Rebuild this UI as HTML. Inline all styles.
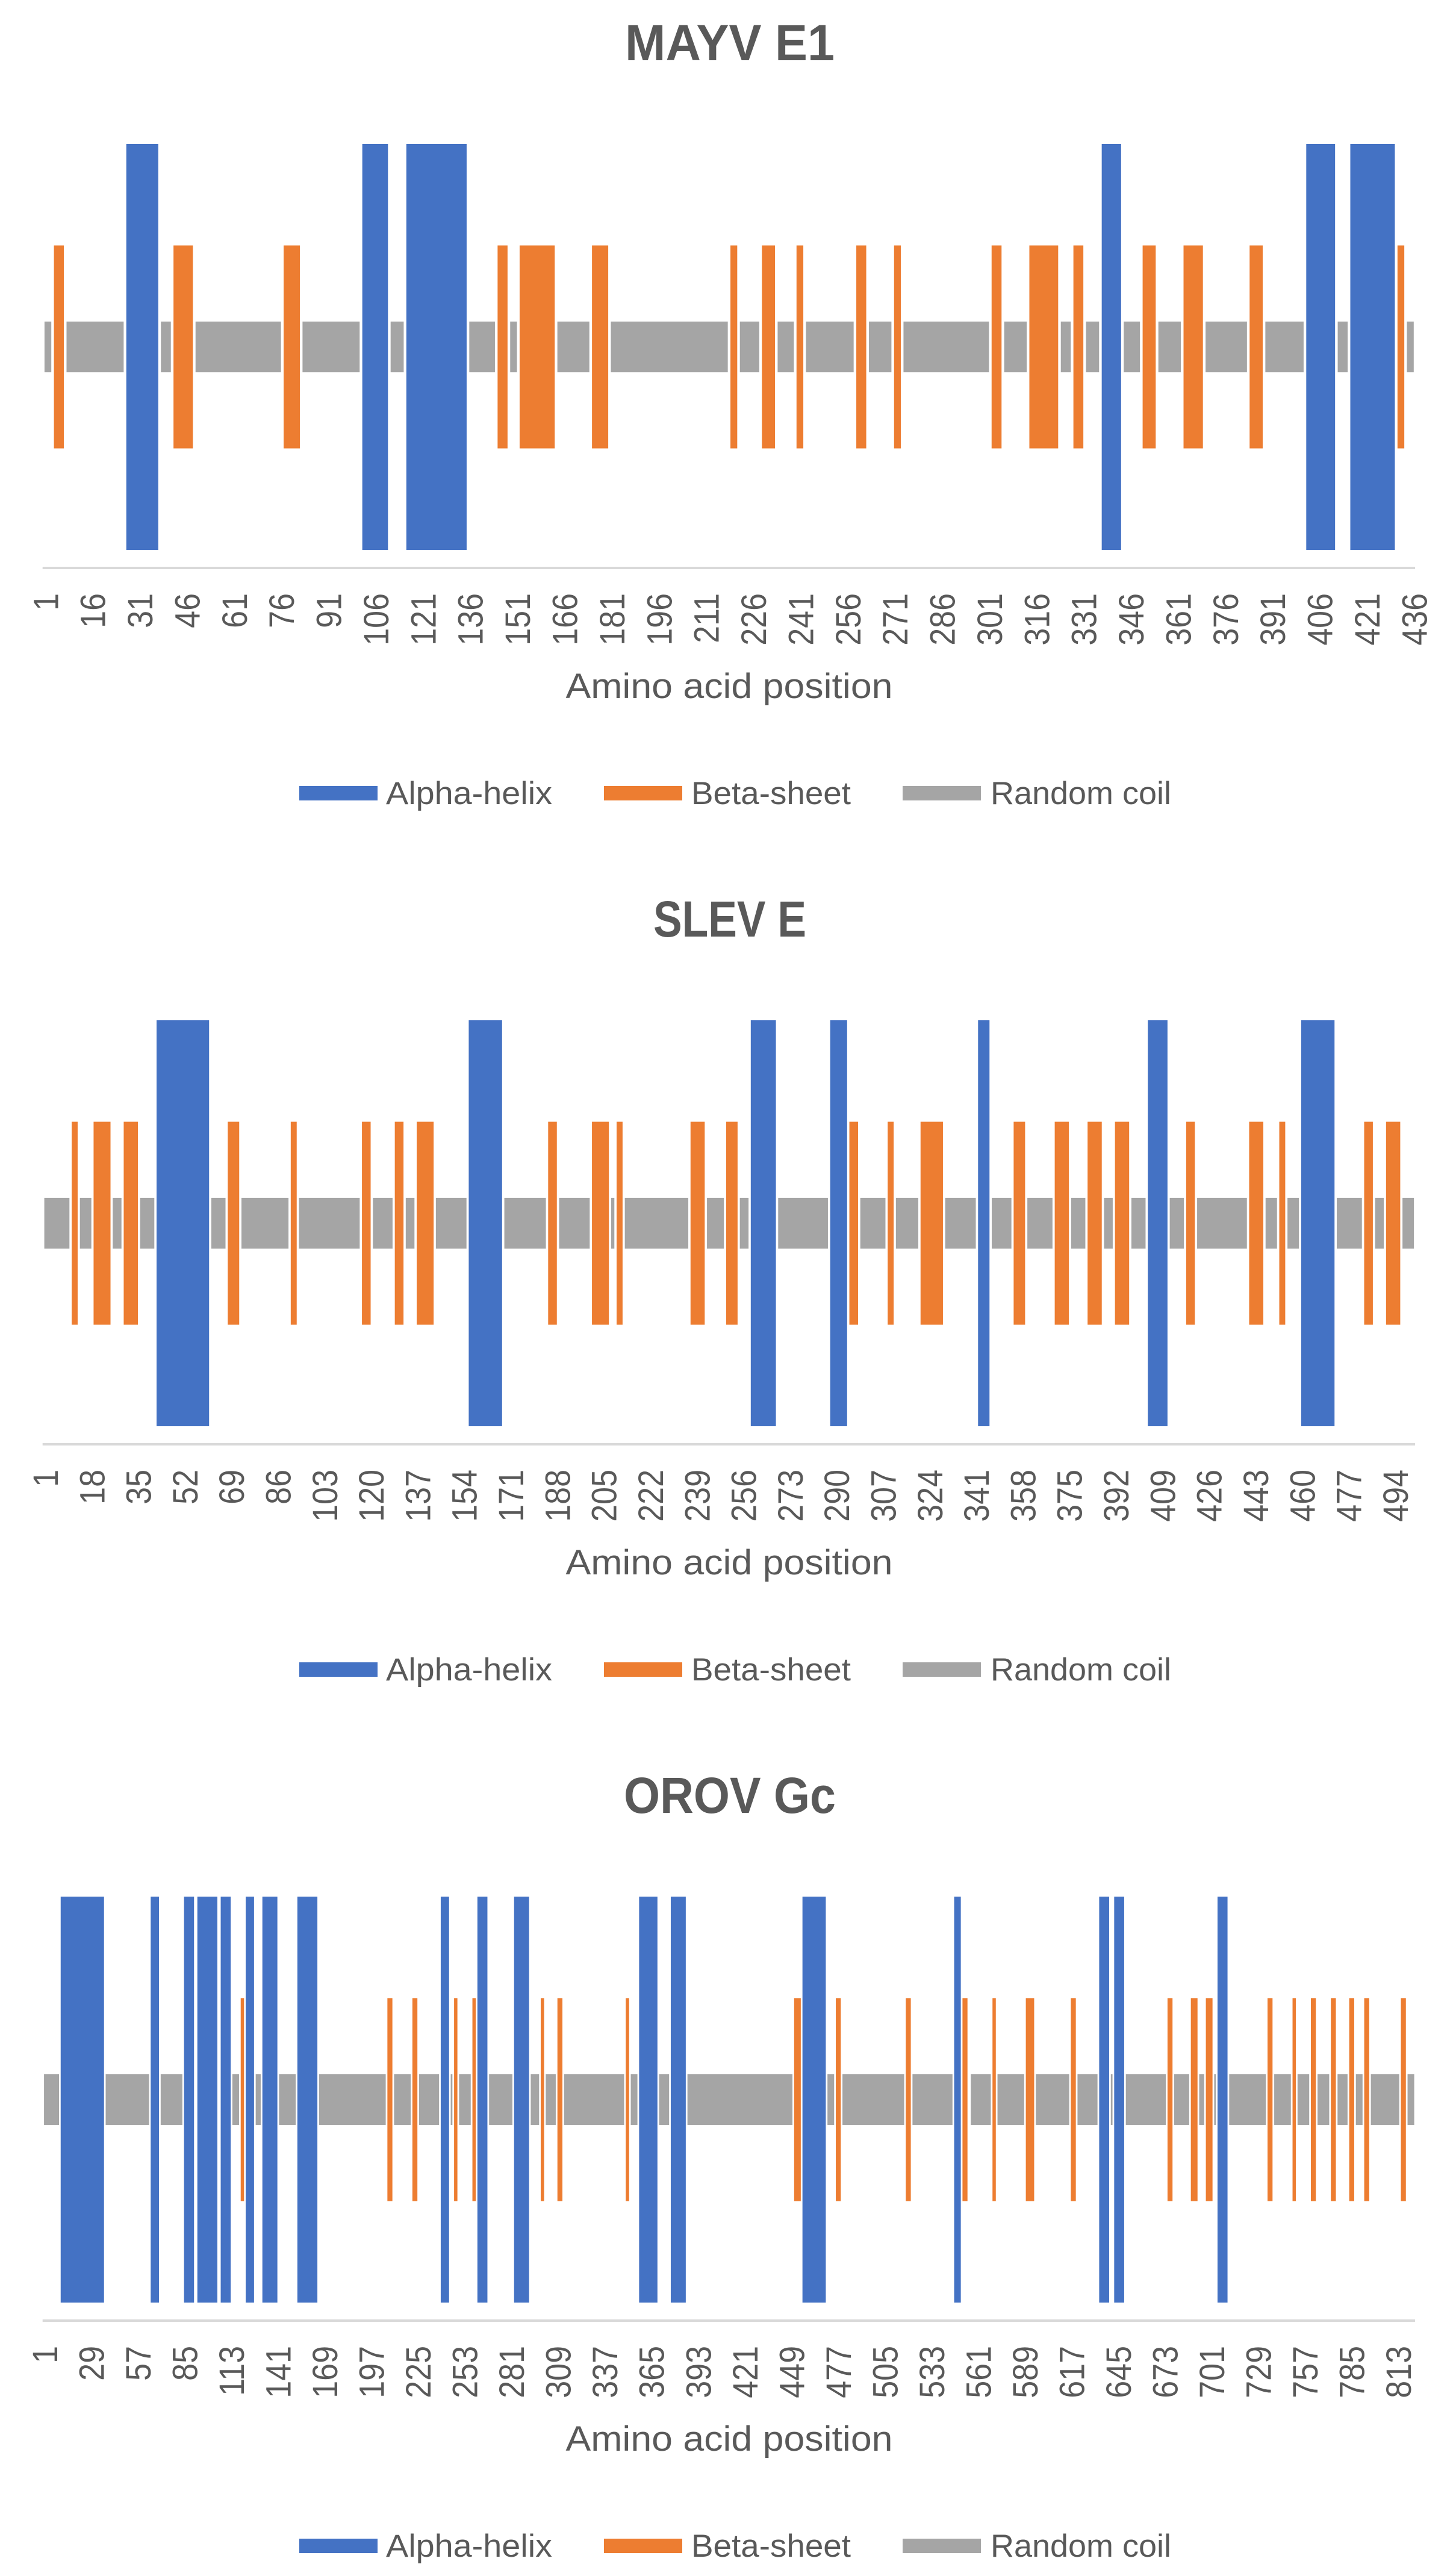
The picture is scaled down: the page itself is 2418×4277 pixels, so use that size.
<!DOCTYPE html>
<html lang="en">
<head>
<meta charset="utf-8">
<title>Secondary structure of MAYV E1, SLEV E and OROV Gc</title>
<style>
html,body{margin:0;padding:0;background:#fff}
svg{display:block}
text{font-family:"Liberation Sans",sans-serif;fill:#595959}
</style>
</head>
<body>
<svg id="figure" xmlns="http://www.w3.org/2000/svg" width="2418" height="4277" viewBox="0 0 2418 4277"></svg>
<script>
const seriesNames = ['Alpha-helix', 'Beta-sheet', 'Random coil'];
const seriesColors = ['#4472C4', '#ED7D31', '#A5A5A5'];
const seriesLevels = [2, 1, 0.25];

const mayvAlpha = [[27,37],[102,110],[116,135],[337,343],[402,411],[416,430]];
const mayvBeta = [[4,7],[42,48],[77,82],[145,148],[152,163],[175,180],[219,221],[229,233],[240,242],[259,262],[271,273],[302,305],[314,323],[328,331],[350,354],[363,369],[384,388],[431,433]];
const mayvCoil = [[1,3],[8,26],[38,41],[49,76],[83,101],[111,115],[136,144],[149,151],[164,174],[181,218],[222,228],[234,239],[243,258],[263,270],[274,301],[306,313],[324,327],[332,336],[344,349],[355,362],[370,383],[389,401],[412,415],[434,436]];
const mayvTicks = [1,16,31,46,61,76,91,106,121,136,151,166,181,196,211,226,241,256,271,286,301,316,331,346,361,376,391,406,421,436];

const slevAlpha = [[42,61],[156,168],[259,268],[288,294],[342,346],[404,411],[460,472]];
const slevBeta = [[11,13],[19,25],[30,35],[68,72],[91,93],[117,120],[129,132],[137,143],[185,188],[201,207],[210,212],[237,242],[250,254],[295,298],[309,311],[321,329],[355,359],[370,375],[382,387],[392,397],[418,421],[441,446],[452,454],[483,486],[491,496]];
const slevCoil = [[1,10],[14,18],[26,29],[36,41],[62,67],[73,90],[94,116],[121,128],[133,136],[144,155],[169,184],[189,200],[208,209],[213,236],[243,249],[255,258],[269,287],[299,308],[312,320],[330,341],[347,354],[360,369],[376,381],[388,391],[398,403],[412,417],[422,440],[447,451],[455,459],[473,482],[487,490],[497,501]];
const slevTicks = [1,18,35,52,69,86,103,120,137,154,171,188,205,222,239,256,273,290,307,324,341,358,375,392,409,426,443,460,477,494];

const orovAlpha = [[11,37],[65,70],[85,91],[93,105],[107,113],[122,127],[132,141],[153,165],[239,244],[261,267],[283,292],[358,369],[377,386],[456,470],[547,551],[634,640],[643,649],[705,711]];
const orovBeta = [[119,121],[207,210],[222,225],[247,249],[258,260],[299,301],[309,312],[350,352],[451,455],[476,479],[518,521],[552,555],[570,572],[590,595],[617,620],[675,678],[689,693],[698,702],[735,738],[750,752],[761,764],[773,776],[784,787],[793,796],[815,818]];
const orovCoil = [[1,10],[38,64],[71,84],[114,118],[128,131],[142,152],[166,206],[211,221],[226,238],[245,246],[250,257],[268,282],[293,298],[302,308],[313,349],[353,357],[370,376],[387,450],[471,475],[480,517],[522,546],[557,569],[573,589],[596,616],[621,633],[641,642],[650,674],[679,688],[694,697],[703,704],[712,734],[739,749],[753,760],[765,772],[777,783],[788,792],[797,814],[819,823]];
const orovTicks = [1,29,57,85,113,141,169,197,225,253,281,309,337,365,393,421,449,477,505,533,561,589,617,645,673,701,729,757,785,813];

const NS = 'http://www.w3.org/2000/svg';
const svg = document.getElementById('figure');
const AXIS_LEFT = 71.7;
const AXIS_RIGHT = 2350;
const CENTER_Y = 576;
const UNITS_PER_LEVEL = 168.5;

function make(tag, parent, attrs) {
  const el = document.createElementNS(NS, tag);
  for (const k in attrs) el.setAttribute(k, attrs[k]);
  parent.appendChild(el);
  return el;
}

function drawChart(slug, title, titleWidth, total, inset, series, ticks, offsetY) {
  const band = (AXIS_RIGHT - AXIS_LEFT) / total;
  const xEdge = r => AXIS_LEFT + r * band;
  const xCenter = r => AXIS_LEFT + (r - 0.5) * band;
  const yVal = v => offsetY + CENTER_Y - v * UNITS_PER_LEVEL;

  const chart = make('g', svg, {});
  
  

  const t = make('text', chart, {x: 1212, y: offsetY + 100, 'text-anchor': 'middle', 'font-size': 84, 'font-weight': 'bold', textLength: titleWidth, lengthAdjust: 'spacingAndGlyphs'});
  
  
  t.textContent = title;

  [2, 1, 0].forEach(function (si) {
    const g = make('g', chart, {fill: seriesColors[si]});
    
    
    series[si].forEach(function (seg) {
      const x0 = xEdge(seg[0] - 1) + inset * band;
      const x1 = xEdge(seg[1]) - inset * band;
      const lvl = seriesLevels[si];
      const r = make('rect', g, {x: x0, y: yVal(lvl), width: Math.max(x1 - x0, 1), height: yVal(-lvl) - yVal(lvl)});
      
      
    });
  });

  const axis = make('rect', chart, {x: AXIS_LEFT - 1, y: offsetY + 941, width: AXIS_RIGHT - AXIS_LEFT + 1, height: 4, fill: '#D9D9D9'});
  
  

  const tg = make('g', chart, {});
  
  
  ticks.forEach(function (v) {
    const bx = xCenter(v) + 22;
    const by = offsetY + 985;
    const lab = make('text', tg, {transform: 'translate(' + bx + ',' + by + ') rotate(-90) scale(1,1.13)', 'text-anchor': 'end', 'font-size': 52});
    
    
    lab.textContent = String(v);
  });

  const xt = make('text', chart, {x: 1211, y: offsetY + 1159, 'text-anchor': 'middle', 'font-size': 58, textLength: 543, lengthAdjust: 'spacingAndGlyphs'});
  
  
  xt.textContent = 'Amino acid position';

  const lg = make('g', chart, {});
  
  
  const swatchX = [497, 1003, 1499];
  const textX = [641, 1148, 1645];
  const textW = [276, 265, 300];
  seriesNames.forEach(function (name, i) {
    const sw = make('rect', lg, {x: swatchX[i], y: offsetY + 1305, width: 130, height: 24, fill: seriesColors[i]});
    
    
    const lt = make('text', lg, {x: textX[i], y: offsetY + 1335, 'font-size': 53, textLength: textW[i], lengthAdjust: 'spacingAndGlyphs'});
    
    
    lt.textContent = name;
  });
}

drawChart('mayv-e1', 'MAYV E1', 348, 436, 0.42, [mayvAlpha, mayvBeta, mayvCoil], mayvTicks, 0);
drawChart('slev-e', 'SLEV E', 254, 501, 0.41, [slevAlpha, slevBeta, slevCoil], slevTicks, 1455);
drawChart('orov-gc', 'OROV Gc', 352, 823, 0.5, [orovAlpha, orovBeta, orovCoil], orovTicks, 2910);
</script>
</body>
</html>
